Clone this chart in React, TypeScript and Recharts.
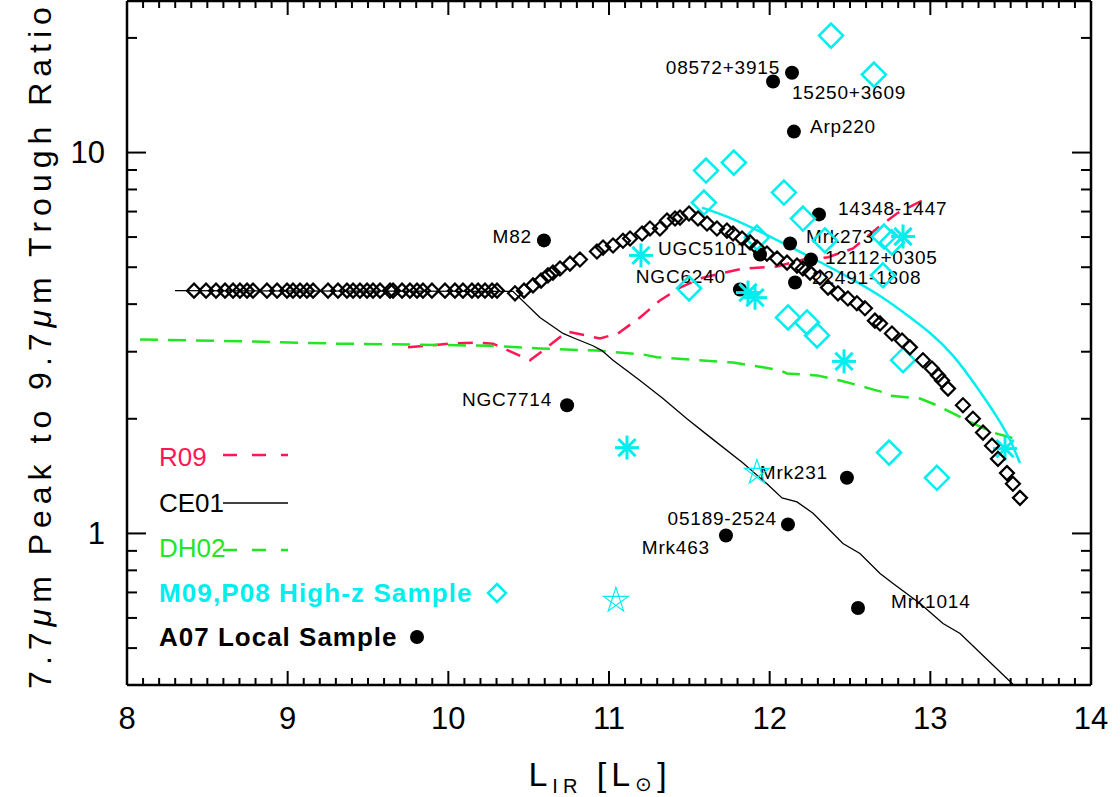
import { ComposedChart, Line, Scatter, XAxis, YAxis } from "recharts";

const FONT = "'Liberation Sans', Arial, sans-serif";
const CYAN = "#00EEEE";
const RED = "#FF1654";
const GREEN = "#22E622";

// A07 local sample (named galaxies)
const a07Names = ["M82", "08572+3915", "15250+3609", "Arp220", "14348-1447", "Mrk273", "UGC5101", "12112+0305", "22491-1808", "NGC6240", "NGC7714", "Mrk231", "05189-2524", "Mrk463", "Mrk1014"];
const a07L = [10.595, 12.021, 12.139, 12.151, 12.307, 12.127, 11.94, 12.257, 12.158, 11.815, 10.739, 12.481, 12.114, 11.728, 12.55];
const a07R = [5.88, 15.36, 16.2, 11.35, 6.88, 5.77, 5.4, 5.24, 4.56, 4.37, 2.17, 1.40, 1.056, 0.988, 0.637];

// M09,P08 high-z sample
const hzL = [12.382, 12.649, 11.604, 11.777, 11.591, 12.089, 12.207, 12.344, 11.921, 12.712, 12.761, 12.705, 11.498, 12.114, 12.232, 12.295, 12.83, 12.743, 13.041];
const hzR = [20.28, 16.02, 8.97, 9.41, 7.39, 7.85, 6.71, 5.88, 5.98, 6.02, 5.81, 4.76, 4.40, 3.69, 3.58, 3.31, 2.85, 1.63, 1.40];

// high-z asterisks and stars
const astL = [11.199, 11.865, 11.909, 12.83, 12.463, 11.112, 13.465];
const astR = [5.37, 4.29, 4.16, 6.02, 2.83, 1.68, 1.67];
const starL = [11.921, 11.043];
const starR = [1.446, 0.667];

// model track (open black diamonds)
const trackL = [8.417, 8.492, 8.554, 8.61, 8.66, 8.703, 8.747, 8.784, 8.871, 8.934, 8.996, 9.033, 9.077, 9.12, 9.158, 9.251, 9.313, 9.369, 9.407, 9.45, 9.494, 9.531, 9.575, 9.637, 9.656, 9.712, 9.761, 9.805, 9.842, 9.898, 9.979, 10.041, 10.091, 10.147, 10.185, 10.228, 10.272, 10.303,
  10.415, 10.471, 10.527, 10.577, 10.62, 10.651, 10.695, 10.757, 10.819, 10.925, 10.963, 11.025, 11.087, 11.131, 11.206, 11.255, 11.317, 11.361, 11.411, 11.442, 11.498,
  11.554, 11.61, 11.672, 11.734, 11.772, 11.828, 11.878, 11.921, 11.983, 12.046, 12.108, 12.17, 12.207, 12.251, 12.313, 12.363, 12.425, 12.487, 12.543, 12.593, 12.655, 12.687, 12.761, 12.824, 12.873, 12.954, 13.01, 13.048, 13.073, 13.11, 13.203, 13.265, 13.328, 13.384, 13.421, 13.477, 13.514, 13.558];
const trackR = [4.34, 4.34, 4.34, 4.34, 4.34, 4.34, 4.34, 4.34, 4.34, 4.34, 4.34, 4.34, 4.34, 4.34, 4.34, 4.34, 4.34, 4.34, 4.34, 4.34, 4.34, 4.34, 4.34, 4.34, 4.34, 4.34, 4.34, 4.34, 4.34, 4.34, 4.34, 4.34, 4.34, 4.34, 4.34, 4.34, 4.34, 4.34,
  4.27, 4.34, 4.48, 4.61, 4.76, 4.84, 4.96, 5.11, 5.24, 5.5, 5.63, 5.7, 5.87, 5.95, 6.13, 6.32, 6.32, 6.63, 6.71, 6.75, 6.92,
  6.71, 6.51, 6.32, 6.24, 6.13, 5.95, 5.81, 5.63, 5.43, 5.27, 5.14, 5.05, 4.96, 4.84, 4.7, 4.42, 4.27, 4.14, 4.02, 3.9, 3.62, 3.56, 3.35, 3.21, 3.08, 2.85, 2.71, 2.6, 2.52, 2.4, 2.17, 2.0, 1.84, 1.7, 1.57, 1.44, 1.35, 1.24];

// R09
const r09L = [9.749, 10.01, 10.178, 10.278, 10.508, 10.589, 10.739, 10.944, 11.056, 11.193, 11.317, 11.442, 11.566, 11.691, 11.834, 12.046, 12.232, 12.357, 12.519, 12.668, 12.792, 12.985];
const r09R = [3.08, 3.15, 3.17, 3.15, 2.85, 3.02, 3.39, 3.25, 3.35, 3.69, 4.09, 4.42, 4.67, 4.81, 4.96, 5.02, 5.27, 5.3, 5.6, 6.32, 6.92, 7.62];

// CE01
const ce01L = [8.299, 10.402, 10.57, 10.714, 10.788, 10.9, 10.956, 11.025, 11.193, 11.336, 11.485, 11.629, 11.834, 11.983, 12.077, 12.17, 12.27, 12.456, 12.562, 12.687, 12.768, 12.936, 13.079, 13.185, 13.514];
const ce01R = [4.34, 4.32, 3.69, 3.35, 3.25, 3.11, 3.02, 2.85, 2.52, 2.26, 2.0, 1.79, 1.53, 1.35, 1.24, 1.21, 1.13, 0.941, 0.886, 0.785, 0.739, 0.655, 0.58, 0.546, 0.402];

// DH02
const dh02L = [8.081, 8.784, 9.307, 9.824, 10.259, 10.57, 10.925, 11.212, 11.299, 11.772, 11.958, 12.064, 12.108, 12.295, 12.438, 12.55, 12.624, 12.718, 12.749, 12.936, 13.041, 13.079, 13.228, 13.39, 13.514];
const dh02R = [3.23, 3.19, 3.15, 3.13, 3.11, 3.06, 3.02, 2.95, 2.9, 2.81, 2.73, 2.68, 2.63, 2.6, 2.52, 2.45, 2.4, 2.34, 2.3, 2.26, 2.17, 2.13, 1.98, 1.84, 1.78];

// cyan model curve
const fitL = [11.579, 11.753, 11.94, 12.127, 12.313, 12.5, 12.687, 12.842, 12.998, 13.141, 13.29, 13.415, 13.496, 13.558];
const fitR = [7.17, 6.74, 6.2, 5.66, 5.16, 4.68, 4.2, 3.78, 3.36, 2.93, 2.42, 2.02, 1.76, 1.53];

const xTicks = Array.from({ length: 61 }, (_, i) => +(8 + i * 0.1).toFixed(1));
const yTicks = [0.4, 0.5, 0.6, 0.7, 0.8, 0.9, 1, 2, 3, 4, 5, 6, 7, 8, 9, 10, 20];

const pts = (xs: number[], ys: number[]) => xs.map((x, i) => ({ x, y: ys[i] }));
const a07 = a07Names.map((name, i) => ({ x: a07L[i], y: a07R[i], name }));

// label placement: [dx, dy, anchor]
const labelPos: Record<string, [number, number, "start" | "end"]> = {
  "M82": [-12, -4, "end"],
  "08572+3915": [7, -14, "end"],
  "15250+3609": [0, 20, "start"],
  "Arp220": [16, -5, "start"],
  "14348-1447": [19, -6, "start"],
  "Mrk273": [16, -7, "start"],
  "UGC5101": [-12, -6, "end"],
  "12112+0305": [14, -2, "start"],
  "22491-1808": [17, -5, "start"],
  "NGC6240": [-14, -13, "end"],
  "NGC7714": [-15, -6, "end"],
  "Mrk231": [-19, -5, "end"],
  "05189-2524": [-11, -6, "end"],
  "Mrk463": [-16, 12, "end"],
  "Mrk1014": [33, -7, "start"],
};

const DotShape = (p: any) => {
  const { cx, cy, payload } = p;
  const lp = labelPos[payload.name];
  return (
    <g>
      <circle cx={cx} cy={cy} r={7} fill="#000" />
      {lp && (
        <text x={cx + lp[0]} y={cy + lp[1]} textAnchor={lp[2]} dominantBaseline="central" fontFamily={FONT} fontSize={19} letterSpacing={0.8} fill="#000">
          {payload.name}
        </text>
      )}
    </g>
  );
};

const diamond = (cx: number, cy: number, r: number) => `M${cx},${cy - r}L${cx + r},${cy}L${cx},${cy + r}L${cx - r},${cy}Z`;

const CyanDiamond = (p: any) => <path d={diamond(p.cx, p.cy, 12)} fill="none" stroke={CYAN} strokeWidth={2.5} />;
const BlackDiamond = (p: any) => <path d={diamond(p.cx, p.cy, 7)} fill="none" stroke="#000" strokeWidth={2.2} />;
const Asterisk = (p: any) => {
  const { cx, cy } = p;
  const r = 12;
  const d = r * 0.72;
  return (
    <g stroke={CYAN} strokeWidth={3}>
      <line x1={cx} y1={cy - r} x2={cx} y2={cy + r} />
      <line x1={cx - r} y1={cy} x2={cx + r} y2={cy} />
      <line x1={cx - d} y1={cy - d} x2={cx + d} y2={cy + d} />
      <line x1={cx - d} y1={cy + d} x2={cx + d} y2={cy - d} />
    </g>
  );
};
const Star = (p: any) => {
  const { cx, cy } = p;
  const R = 13;
  const s: string[] = [];
  for (let i = 0; i < 5; i++) {
    const a = -Math.PI / 2 + (i * 4 * Math.PI) / 5;
    s.push(`${cx + R * Math.cos(a)},${cy + R * Math.sin(a)}`);
  }
  return <polygon points={s.join(" ")} fill="none" stroke={CYAN} strokeWidth={1.2} />;
};

const isMajorX = (v: number) => Math.abs(v - Math.round(v)) < 1e-6;
const XTick = (top: boolean) => (p: any) => {
  const { x, y, payload } = p;
  const v = payload.value;
  const major = isMajorX(v);
  const len = major ? 14 : 7;
  const dir = top ? 1 : -1;
  return (
    <g>
      <line x1={x} x2={x} y1={y} y2={y + dir * len} stroke="#000" strokeWidth={2} />
      {!top && major && (
        <text x={x} y={y + 33} textAnchor="middle" dominantBaseline="central" fontFamily={FONT} fontSize={31} fill="#000">
          {v}
        </text>
      )}
    </g>
  );
};
const YTick = (right: boolean) => (p: any) => {
  const { x, y, payload } = p;
  const v = payload.value;
  const major = v === 1 || v === 10;
  const len = major ? 19 : 10;
  const dir = right ? -1 : 1;
  return (
    <g>
      <line x1={x} x2={x + dir * len} y1={y} y2={y} stroke="#000" strokeWidth={2} />
      {!right && major && (
        <text x={x - 22} y={y} textAnchor="end" dominantBaseline="central" fontFamily={FONT} fontSize={31} fill="#000">
          {v}
        </text>
      )}
    </g>
  );
};

const Overlay = () => (
  <svg width={1120} height={797} style={{ position: "absolute", left: 0, top: 0, pointerEvents: "none" }}>
    <text transform="translate(40,345) rotate(-90)" textAnchor="middle" dominantBaseline="central" fontFamily={FONT} fontSize={32} letterSpacing={6} fill="#000">
      7.7<tspan fontStyle="italic">μ</tspan>m Peak to 9.7<tspan fontStyle="italic">μ</tspan>m Trough Ratio
    </text>
    <text x={600} y={786} textAnchor="middle" fontFamily={FONT} fontSize={34} letterSpacing={5} fill="#000">
      L<tspan fontSize={20} dy={7}>IR</tspan>
      <tspan dy={-7}> [L</tspan>
      <tspan fontSize={20} dy={5}>⊙</tspan>
      <tspan dy={-5}>]</tspan>
    </text>
    <g fontFamily={FONT} fontSize={26}>
      <text x={159} y={457} dominantBaseline="central" fill={RED}>R09</text>
      <line x1={223} x2={288} y1={455} y2={455} stroke={RED} strokeWidth={2.5} strokeDasharray="14 15" />
      <text x={159} y={503} dominantBaseline="central" fill="#000">CE01</text>
      <line x1={223} x2={288} y1={503} y2={503} stroke="#000" strokeWidth={1.3} />
      <text x={159} y={548} dominantBaseline="central" fill={GREEN}>DH02</text>
      <line x1={223} x2={288} y1={550} y2={550} stroke={GREEN} strokeWidth={2.5} strokeDasharray="14 15" />
      <text x={159} y={593} dominantBaseline="central" fill={CYAN} fontWeight="bold" letterSpacing={1.1}>M09,P08 High-z Sample</text>
      <path d={diamond(497, 593, 9)} fill="none" stroke={CYAN} strokeWidth={2.5} />
      <text x={159} y={637} dominantBaseline="central" fill="#000" fontWeight="bold" letterSpacing={1}>A07 Local Sample</text>
      <circle cx={417} cy={637} r={7} fill="#000" />
    </g>
  </svg>
);

export default function App() {
  return (
    <div style={{ position: "absolute", left: 0, top: 0, width: 1120, height: 797, background: "#fff" }}>
      <ComposedChart width={1120} height={797} margin={{ top: 0, right: 28, bottom: 111, left: 126 }}>
        <XAxis xAxisId="b" dataKey="x" type="number" domain={[8, 14]} allowDataOverflow ticks={xTicks} interval={0} height={1} tickSize={0} tickMargin={0} tick={XTick(false)} axisLine={{ stroke: "#000", strokeWidth: 2.5 }} />
        <XAxis xAxisId="t" orientation="top" dataKey="x" type="number" domain={[8, 14]} allowDataOverflow ticks={xTicks} interval={0} height={1} tickSize={0} tickMargin={0} tick={XTick(true)} axisLine={{ stroke: "#000", strokeWidth: 2.5 }} />
        <YAxis yAxisId="l" dataKey="y" scale="log" type="number" domain={[0.4, 25]} allowDataOverflow ticks={yTicks} interval={0} width={1} tickSize={0} tickMargin={0} tick={YTick(false)} axisLine={{ stroke: "#000", strokeWidth: 2.5 }} />
        <YAxis yAxisId="r" orientation="right" dataKey="y" scale="log" type="number" domain={[0.4, 25]} allowDataOverflow ticks={yTicks} interval={0} width={1} tickSize={0} tickMargin={0} tick={YTick(true)} axisLine={{ stroke: "#000", strokeWidth: 2.5 }} />

        <Scatter xAxisId="b" yAxisId="l" data={a07} dataKey="y" shape={DotShape} isAnimationActive={false} />
        <Line xAxisId="b" yAxisId="l" data={pts(r09L, r09R)} dataKey="y" type="linear" stroke={RED} strokeWidth={2.5} strokeDasharray="15 10" dot={false} isAnimationActive={false} />
        <Line xAxisId="b" yAxisId="l" data={pts(dh02L, dh02R)} dataKey="y" type="linear" stroke={GREEN} strokeWidth={2.5} strokeDasharray="18 10" dot={false} isAnimationActive={false} />
        <Line xAxisId="b" yAxisId="l" data={pts(ce01L, ce01R)} dataKey="y" type="linear" stroke="#000" strokeWidth={1.3} dot={false} isAnimationActive={false} />
        <Line xAxisId="b" yAxisId="l" data={pts(fitL, fitR)} dataKey="y" type="natural" stroke={CYAN} strokeWidth={2.5} dot={false} isAnimationActive={false} />
        <Scatter xAxisId="b" yAxisId="l" data={pts(hzL, hzR)} dataKey="y" shape={CyanDiamond} isAnimationActive={false} />
        <Scatter xAxisId="b" yAxisId="l" data={pts(astL, astR)} dataKey="y" shape={Asterisk} isAnimationActive={false} />
        <Scatter xAxisId="b" yAxisId="l" data={pts(starL, starR)} dataKey="y" shape={Star} isAnimationActive={false} />
        <Scatter xAxisId="b" yAxisId="l" data={pts(trackL, trackR)} dataKey="y" shape={BlackDiamond} isAnimationActive={false} />
      </ComposedChart>
      <Overlay />
    </div>
  );
}
